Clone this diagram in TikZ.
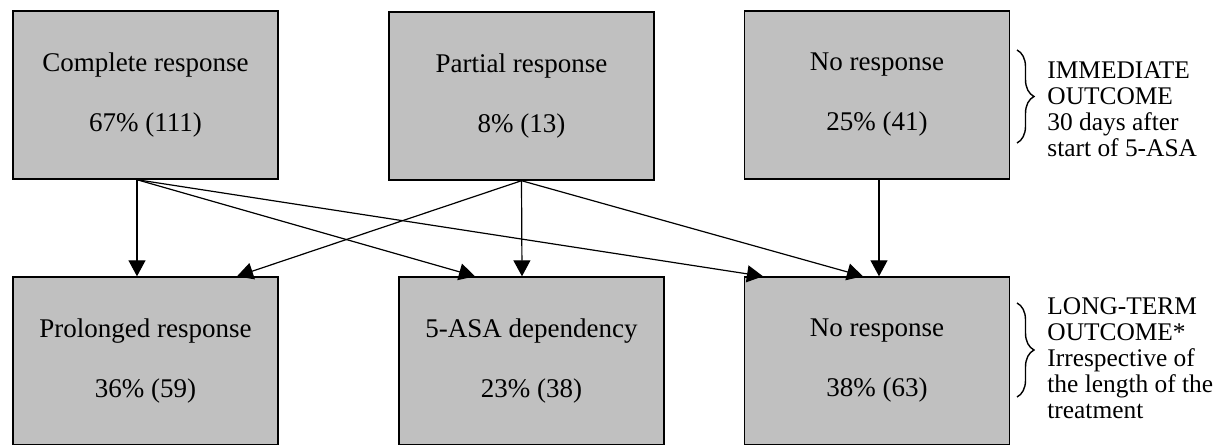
\documentclass[tikz,border=0pt]{standalone}
\usepackage{fontspec}
\setmainfont{Liberation Serif}
\usetikzlibrary{arrows.meta,decorations.pathreplacing}
\definecolor{boxgray}{HTML}{C0C0C0}
\begin{document}
\begin{tikzpicture}[
 x=.5pt,y=-.5pt,
 outcome/.style={draw,fill=boxgray,line width=.7pt,minimum width=132.5pt,minimum height=84pt,inner sep=0pt,align=center,font={\fontsize{13.5}{30}\selectfont}},
 link/.style={line width=.6pt,-{Triangle[length=8pt,width=8.5pt]}},
 span/.style={line width=.7pt,decorate,decoration={brace,amplitude=8.5pt}},
 note/.style={anchor=north west,inner sep=0pt,align=left,font={\fontsize{12.7}{13}\selectfont}}]
 \useasboundingbox (0,0) rectangle (1214,444);
 \clip (0,0) rectangle (1214,444);
 % Immediate outcome row.
 \node[outcome] (cr) at (145.5,95) {Complete response\\67\% (111)};
 \node[outcome] (pr) at (521.5,96) {Partial response\\8\% (13)};
 \node[outcome] (nr) at (877,95) {No response\\25\% (41)};
 % Long-term outcome row, cut at the lower edge.
 \node[outcome] (pl) at (145.5,361) {Prolonged response\\36\% (59)};
 \node[outcome] (ad) at (531.5,361) {5-ASA dependency\\23\% (38)};
 \node[outcome] (nl) at (877,361) {No response\\38\% (63)};
 % Where the arrows leave the upper boxes.
 \coordinate (crout) at ([shift={(-8.5,0)}]cr.south);
 \coordinate (prout) at (pr.south);
 \coordinate (nrout) at ([shift={(2,0)}]nr.south);
 \draw[link] (crout) -- ([shift={(-8.5,0)}]pl.north);
 \draw[link] (crout) -- ([shift={(-56.5,0)}]ad.north);
 \draw[link] (crout) -- ([shift={(-114,0)}]nl.north);
 \draw[link] (prout) -- ([shift={(91.5,0)}]pl.north);
 \draw[link] (prout) -- ([shift={(-9.5,0)}]ad.north);
 \draw[link] (prout) -- ([shift={(-14,0)}]nl.north);
 \draw[link] (nrout) -- ([shift={(2,0)}]nl.north);
 % Braces and row notes.
 \draw[span] (1017,50) -- (1017,143);
 \draw[span] (1017,303) -- (1017,397);
 \node[note] (immnote) at (1047,61) {IMMEDIATE\\OUTCOME\\30 days after\\start of 5-ASA};
 \node[note] (longnote) at (1047,297) {LONG-TERM\\OUTCOME*\\Irrespective of\\the length of the\\treatment};
\end{tikzpicture}
\end{document}
